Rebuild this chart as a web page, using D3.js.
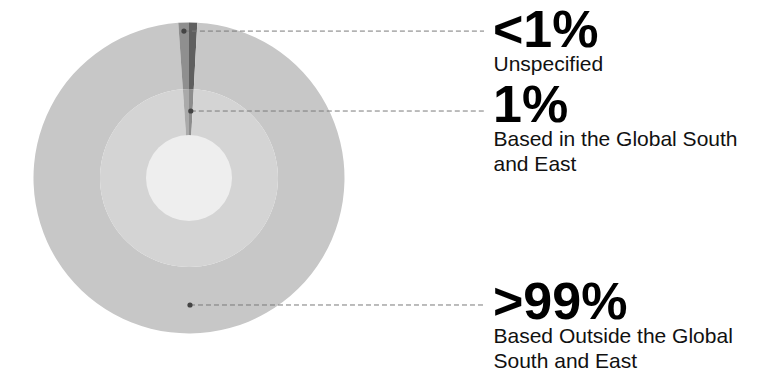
<!DOCTYPE html>
<html>
<head>
<meta charset="utf-8">
<script src="https://cdn.jsdelivr.net/npm/d3@7"></script>
<style>
  html, body { margin: 0; padding: 0; background: #fff; }
  svg { display: block; }
  text { font-family: "Liberation Sans", Arial, Helvetica, sans-serif; }
</style>
</head>
<body>
<svg id="chart" width="768" height="375"></svg>
<script>
// ---- data ----
const categories = ["Based in the Global South and East", "Based Outside the Global South and East", "Unspecified"];
const shares = [0.85, 98.05, 1.1];            // percent of circle, clockwise from 12 o'clock
const bigLabels = ["1%", ">99%", "<1%"];
const labelLines = [["Based in the Global South", "and East"], ["Based Outside the Global", "South and East"], ["Unspecified"]];

// ---- styles / layout ----
const outerColors  = ["#5f5f5f", "#c7c7c7", "#8f8f8f"];
const middleColors = ["#8d8d8d", "#d4d4d4", "#aaaaaa"];
const innerColor = "#eeeeee";
const cx = 189, cy = 178;
const rOuter = 155.5, rMid = 89, rInner = 43;
const dotRadius = [67, 127, 147];   // radius at which the callout dot sits
const labelBaseline = [122, 319, 47];
const labelX = 493, lineEndX = 484;

const svg = d3.select("#chart");
const g = svg.append("g").attr("transform", `translate(${cx},${cy})`);

const pie = d3.pie().sort(null).value(d => d);
const arcs = pie(shares);

const outerArc = d3.arc().innerRadius(rMid).outerRadius(rOuter);
const midArc = d3.arc().innerRadius(0).outerRadius(rMid);

g.selectAll("path.outer").data(arcs).join("path")
  .attr("class", "outer")
  .attr("d", outerArc)
  .attr("fill", (d, i) => outerColors[i]);

g.selectAll("path.mid").data(arcs).join("path")
  .attr("class", "mid")
  .attr("d", midArc)
  .attr("fill", (d, i) => middleColors[i]);

g.append("circle").attr("r", rInner).attr("fill", innerColor);

// callouts
arcs.forEach((a, i) => {
  const mid = (a.startAngle + a.endAngle) / 2;
  const x = Math.sin(mid) * dotRadius[i];
  const y = -Math.cos(mid) * dotRadius[i];
  g.append("line")
    .attr("x1", x).attr("y1", y)
    .attr("x2", lineEndX - cx).attr("y2", y)
    .attr("stroke", "#7a7a7a")
    .attr("stroke-width", 1)
    .attr("stroke-dasharray", "5,3");
  g.append("circle").attr("cx", x).attr("cy", y).attr("r", 2.6).attr("fill", "#444");

  const t = svg.append("text")
    .attr("x", labelX).attr("y", labelBaseline[i])
    .attr("fill", "#000");
  t.append("tspan")
    .attr("font-size", 52).attr("font-weight", "bold")
    .text(bigLabels[i]);
  labelLines[i].forEach((ln, j) => {
    t.append("tspan")
      .attr("x", labelX + 0.5)
      .attr("dy", j === 0 ? 24 : 25)
      .attr("font-size", 21).attr("fill", "#111")
      .text(ln);
  });
});
</script>
</body>
</html>
